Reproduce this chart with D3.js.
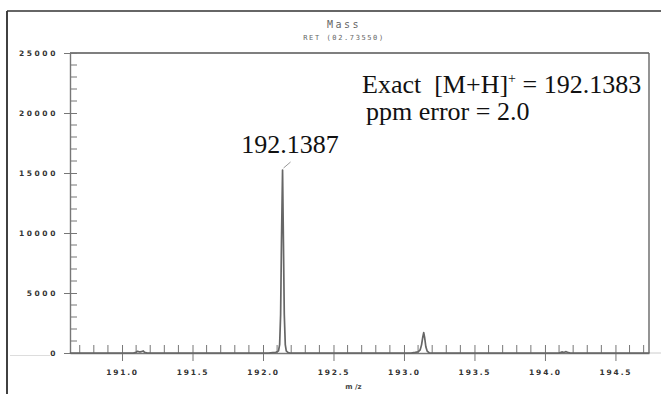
<!DOCTYPE html>
<html>
<head>
<meta charset="utf-8">
<script src="https://cdn.jsdelivr.net/npm/d3@7"></script>
<style>
  html, body { margin: 0; padding: 0; background: #fff; }
  svg { display: block; }
</style>
</head>
<body>
<script>
// ---------- data ----------
const title = "Mass";
const subtitle = "RET (02.73550)";
const xLabel = "m /z";
const yTicks = [0, 5000, 10000, 15000, 20000, 25000];
const xTicks = [191.0, 191.5, 192.0, 192.5, 193.0, 193.5, 194.0, 194.5];
// profile spectrum (m/z, intensity)
const mz = [190.63, 191.08, 191.10, 191.11, 191.12, 191.13, 191.14, 191.15, 191.16, 191.18,
            192.04, 192.07, 192.09, 192.10, 192.11, 192.118, 192.125, 192.131, 192.1387,
            192.145, 192.151, 192.158, 192.165, 192.175, 192.19,
            193.05, 193.08, 193.10, 193.115, 193.125, 193.133, 193.140, 193.147, 193.155, 193.165, 193.18,
            194.10, 194.12, 194.13, 194.14, 194.15, 194.16, 194.18, 194.74];
const intensity = [0, 0, 60, 140, 100, 90, 130, 170, 60, 0,
            0, 40, 60, 90, 180, 700, 3200, 9200, 15250,
            9200, 3200, 700, 180, 60, 0,
            0, 50, 90, 260, 700, 1300, 1700, 1250, 520, 150, 0,
            0, 90, 60, 80, 110, 60, 0, 0];
const peakLabel = "192.1387";
const peakMz = 192.1387;
const peakI = 15250;

// ---------- layout ----------
const W = 661, H = 394;
const L = 70, R = 649, T = 53, B = 353;

const svg = d3.select("body").append("svg").attr("width", W).attr("height", H);

const x = d3.scaleLinear().domain([190.631, 194.738]).range([L, R]);
const y = d3.scaleLinear().domain([0, 25000]).range([B, T]);

// outer frame
svg.append("line").attr("x1", 7).attr("x2", 7).attr("y1", 11).attr("y2", H).attr("stroke", "#111").attr("stroke-width", 1.6);
svg.append("line").attr("x1", 7).attr("x2", W).attr("y1", 11).attr("y2", 11).attr("stroke", "#333").attr("stroke-width", 1.4);

// faint baseline extension
svg.append("line").attr("x1", 10).attr("x2", 50).attr("y1", B + 2.5).attr("y2", B + 2.5).attr("stroke", "#ddd").attr("stroke-width", 1);
svg.append("line").attr("x1", R).attr("x2", W).attr("y1", B).attr("y2", B).attr("stroke", "#ccc").attr("stroke-width", 1);

const axisColor = "#777";

// plot box top and right
svg.append("line").attr("x1", L).attr("x2", R).attr("y1", T).attr("y2", T).attr("stroke", "#555").attr("stroke-width", 1.6);
svg.append("line").attr("x1", R).attr("x2", R).attr("y1", T).attr("y2", B).attr("stroke", "#666").attr("stroke-width", 1.4);

// y axis
const yMinor = d3.range(0, 25001, 1000).filter(v => v % 5000 !== 0);
const yAxisMajor = d3.axisLeft(y).tickValues(yTicks).tickSizeInner(6).tickSizeOuter(0).tickFormat(d3.format("d"));
const gy = svg.append("g").attr("transform", `translate(${L},0)`).call(yAxisMajor);
gy.select(".domain").attr("stroke", axisColor).attr("stroke-width", 1.4);
gy.selectAll(".tick line").attr("stroke", axisColor).attr("x2", -6).attr("x1", 7);
gy.selectAll(".tick text")
  .attr("x", -12).attr("dy", "0.35em")
  .attr("fill", "#333").style("font-family", "'DejaVu Sans', sans-serif")
  .style("font-size", "7.5px").style("font-weight", "bold").style("letter-spacing", "2.6px");
svg.append("g").selectAll("line").data(yMinor).join("line")
  .attr("x1", L).attr("x2", L + 7).attr("y1", d => y(d)).attr("y2", d => y(d))
  .attr("stroke", axisColor).attr("stroke-width", 1);

// x axis
const xMinor = d3.range(190.7, 194.75, 0.1).map(v => +v.toFixed(1)).filter(v => Math.abs(v * 2 - Math.round(v * 2)) > 1e-6);
const gx = svg.append("g").attr("transform", `translate(0,${B})`)
  .call(d3.axisBottom(x).tickValues(xTicks).tickSizeOuter(0).tickFormat(d3.format(".1f")));
gx.select(".domain").attr("stroke", axisColor).attr("stroke-width", 1.4);
gx.selectAll(".tick line").attr("stroke", axisColor).attr("y1", -8).attr("y2", 8);
gx.selectAll(".tick text")
  .attr("y", 17).attr("dy", "0.71em")
  .attr("fill", "#333").style("font-family", "'DejaVu Sans', sans-serif")
  .style("font-size", "7.5px").style("font-weight", "bold").style("letter-spacing", "1.8px");
svg.append("g").selectAll("line").data(xMinor).join("line")
  .attr("x1", d => x(d)).attr("x2", d => x(d)).attr("y1", B).attr("y2", B - 8)
  .attr("stroke", axisColor).attr("stroke-width", 1);

// x label
svg.append("text").attr("x", (L + R) / 2 - 6).attr("y", 389).attr("text-anchor", "middle")
  .attr("fill", "#444").style("font-family", "'DejaVu Sans', sans-serif")
  .style("font-size", "7px").style("font-weight", "bold").text(xLabel);

// title
svg.append("text").attr("x", 344).attr("y", 28).attr("text-anchor", "middle")
  .attr("fill", "#666").style("font-family", "'DejaVu Sans Mono', monospace")
  .style("font-size", "10px").style("letter-spacing", "2.5px").text(title);
svg.append("text").attr("x", 344).attr("y", 40).attr("text-anchor", "middle")
  .attr("fill", "#666").style("font-family", "'DejaVu Sans Mono', monospace")
  .style("font-size", "7px").style("letter-spacing", "1.6px").text(subtitle);

// spectrum
const line = d3.line().x((d, i) => x(mz[i])).y((d, i) => y(intensity[i]));
svg.append("path").datum(mz).attr("d", line)
  .attr("fill", "none").attr("stroke", "#666").attr("stroke-width", 1.7).attr("stroke-linejoin", "round");

// peak label and leader
svg.append("line").attr("x1", x(peakMz) + 1).attr("y1", y(peakI) - 2)
  .attr("x2", x(peakMz) + 8).attr("y2", y(peakI) - 8).attr("stroke", "#999").attr("stroke-width", 1);
const serif = "'Liberation Serif', 'Times New Roman', serif";
svg.append("text").attr("x", 290).attr("y", 153).attr("text-anchor", "middle")
  .attr("fill", "#111").style("font-family", serif).style("font-size", "26px").text(peakLabel);

// annotation
const ann = svg.append("text").attr("x", 362).attr("y", 93)
  .attr("fill", "#111").style("font-family", serif).style("font-size", "26px")
  .style("white-space", "pre").attr("xml:space", "preserve");
ann.append("tspan").text("Exact  [M+H]");
ann.append("tspan").attr("dy", -10).style("font-size", "14px").text("+");
ann.append("tspan").attr("dy", 10).text(" = 192.1383");
svg.append("text").attr("x", 366).attr("y", 120)
  .attr("fill", "#111").style("font-family", serif).style("font-size", "26px").text("ppm error = 2.0");
</script>
</body>
</html>
